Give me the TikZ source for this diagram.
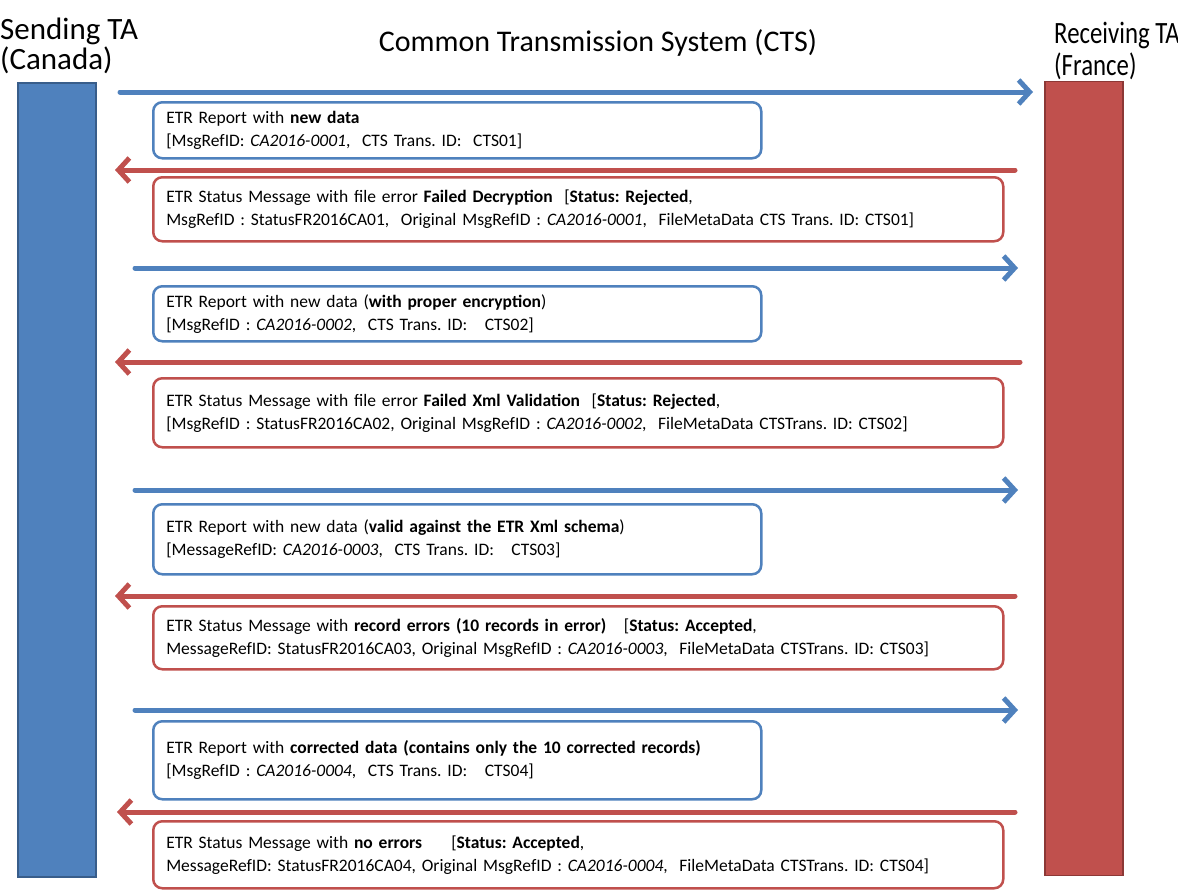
\documentclass[tikz,border=0pt]{standalone}
\usepackage{fontspec}
\setmainfont{Carlito}
\newfontfamily\narrowfont[FakeStretch=0.8]{Carlito}
\usetikzlibrary{arrows.meta}
\usetikzlibrary{positioning}
\definecolor{ctsblue}{HTML}{4F81BD}
\definecolor{ctsbluedark}{HTML}{385D8A}
\definecolor{ctsred}{HTML}{C0504D}
\definecolor{ctsreddark}{HTML}{8C3836}
\frenchspacing

\begin{document}
\begin{tikzpicture}[x=1pt,y=-1pt,
    ta node/.style={rectangle,draw,line width=1.5pt,inner sep=0pt,minimum width=78pt,minimum height=794pt},
    head node/.style={anchor=base west,inner sep=0pt,font=\fontsize{31}{32}\selectfont},
    msg node/.style={rectangle,rounded corners=9pt,draw,line width=2.5pt,fill=white,anchor=north west,align=left,inner sep=0pt,font=\fontsize{17.5}{23}\selectfont},
    blue msg/.style={msg node,draw=ctsblue,minimum width=608pt,text width=582pt},
    red msg/.style={msg node,draw=ctsred,minimum width=850pt,text width=824pt},
    send arrow/.style={-{Straight Barb[length=11pt,width=24pt]},line width=5pt,line cap=round,ctsblue},
    reply arrow/.style={send arrow,ctsred}]
  \useasboundingbox (0,0) rectangle (1178,891);
  % the two tax administrations
  \node[ta node,fill=ctsblue,draw=ctsbluedark] (canada) at (57,480) {};
  \node[ta node,fill=ctsred,draw=ctsreddark] (france) at (1084,478.5) {};
  \node[head node] (sending) at (0,40) {Sending TA};
  \node[head node] (canadalbl) at (0,70) {(Canada)};
  \node[head node,font=\fontsize{31}{32}\narrowfont] (receiving) at (1054,44) {Receiving TA};
  \node[head node,font=\fontsize{31}{32}\narrowfont] (francelbl) at (1054,75) {(France)};
  \node[head node,anchor=base,font=\fontsize{30}{31}\selectfont] (cts) at (598,52) {Common Transmission System (CTS)};

  % arrow ends
  \coordinate (c1) at (120,92);   \coordinate (f1) at (1033,92);
  \coordinate (f2) at (1015,170); \coordinate (c2) at (115,170);
  \coordinate (c3) at (135,268);  \coordinate (f3) at (1018,268);
  \coordinate (f4) at (1020,362); \coordinate (c4) at (115,362);
  \coordinate (c5) at (135,490);  \coordinate (f5) at (1018,490);
  \coordinate (f6) at (1015,596); \coordinate (c6) at (115,596);
  \coordinate (c7) at (135,710);  \coordinate (f7) at (1018,710);
  \coordinate (f8) at (1015,812); \coordinate (c8) at (117,812);

  \path[send arrow] (c1) edge (f1);
  \path[reply arrow] (f2) edge (c2);
  \path[send arrow] (c3) edge (f3);
  \path[reply arrow] (f4) edge (c4);
  \path[send arrow] (c5) edge (f5);
  \path[reply arrow] (f6) edge (c6);
  \path[send arrow] (c7) edge (f7);
  \path[reply arrow] (f8) edge (c8);

  % messages
  \node[blue msg,minimum height=56pt] (m1) at (152,101)
    {ETR Report with \textbf{new data}\\{[}MsgRefID: \textit{CA2016-0001},\ \ CTS Trans. ID:\ \ CTS01]};
  \node[red msg,minimum height=64pt] (s1) at (152,176)
    {ETR Status Message with file error \textbf{Failed Decryption}\ \ [\textbf{Status: Rejected},\\MsgRefID : StatusFR2016CA01,\ \ Original MsgRefID : \textit{CA2016-0001},\ \ FileMetaData CTS Trans. ID: CTS01]};
  \node[blue msg,minimum height=55pt] (m2) at (152,285)
    {ETR Report with new data (\textbf{with proper encryption})\\{[}MsgRefID : \textit{CA2016-0002},\ \ CTS Trans. ID:\ \ \ CTS02]};
  \node[red msg,minimum height=69pt] (s2) at (152,377)
    {ETR Status Message with file error \textbf{Failed Xml Validation}\ \ [\textbf{Status: Rejected},\\{[}MsgRefID : StatusFR2016CA02, Original MsgRefID : \textit{CA2016-0002},\ \ FileMetaData CTSTrans. ID: CTS02]};
  \node[blue msg,minimum height=70pt] (m3) at (152,503)
    {ETR Report with new data (\textbf{valid against the ETR Xml schema})\\{[}MessageRefID: \textit{CA2016-0003},\ \ CTS Trans. ID:\ \ \ CTS03]};
  \node[red msg,minimum height=63pt] (s3) at (152,605)
    {ETR Status Message with \textbf{record errors (10 records in error)}\ \ \ [\textbf{Status: Accepted},\\MessageRefID: StatusFR2016CA03, Original MsgRefID : \textit{CA2016-0003},\ \ FileMetaData CTSTrans. ID: CTS03]};
  \node[blue msg,minimum height=78pt] (m4) at (152,720)
    {ETR Report with \textbf{corrected data (contains only the 10 corrected records)}\\{[}MsgRefID : \textit{CA2016-0004},\ \ CTS Trans. ID:\ \ \ CTS04]};
  \node[red msg,minimum height=67pt] (s4) at (152,820)
    {ETR Status Message with \textbf{no errors}\ \ \ \ \ [\textbf{Status: Accepted},\\MessageRefID: StatusFR2016CA04, Original MsgRefID : \textit{CA2016-0004},\ \ FileMetaData CTSTrans. ID: CTS04]};
\end{tikzpicture}
\end{document}
